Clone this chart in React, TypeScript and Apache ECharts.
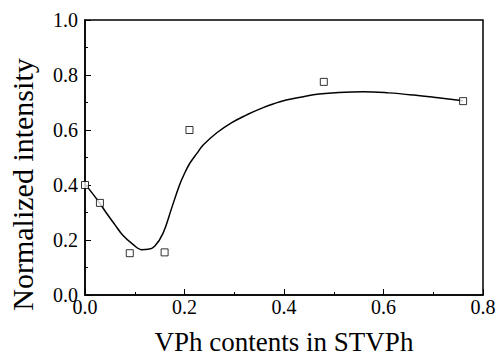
import React, { useEffect, useRef } from "react";
import * as echarts from "echarts";

const pointX = [0, 0.03, 0.09, 0.16, 0.21, 0.48, 0.76];
const pointY = [0.4, 0.335, 0.152, 0.155, 0.6, 0.775, 0.705];

const curveX = [0, 0.028, 0.043, 0.06, 0.076, 0.097, 0.113, 0.127, 0.14, 0.157, 0.174, 0.19, 0.2, 0.211, 0.225, 0.238, 0.265, 0.295, 0.325, 0.352, 0.392, 0.433, 0.459, 0.51, 0.56, 0.61, 0.661, 0.71, 0.76];
const curveY = [0.404, 0.338, 0.298, 0.256, 0.217, 0.183, 0.165, 0.166, 0.177, 0.225, 0.315, 0.4, 0.442, 0.48, 0.515, 0.546, 0.59, 0.627, 0.655, 0.677, 0.703, 0.719, 0.728, 0.736, 0.739, 0.735, 0.727, 0.717, 0.706];

const xTitle = "VPh contents in STVPh";
const yTitle = "Normalized intensity";

const FONT = "Liberation Serif";

export default function App() {
  const ref = useRef<HTMLDivElement>(null);
  useEffect(() => {
    if (!ref.current) return;
    const chart = echarts.init(ref.current, null, { renderer: "svg" });
    const axisCommon = {
      axisLine: { show: true, onZero: false, lineStyle: { color: "#000", width: 1.5 } },
      axisTick: { show: true, inside: true, length: 6, lineStyle: { color: "#000", width: 1 } },
      minorTick: { show: true, splitNumber: 2, length: 3, lineStyle: { color: "#000", width: 1 } },
      splitLine: { show: false },
      axisLabel: {
        color: "#000",
        fontFamily: FONT,
        fontSize: 20,
        formatter: (v: number) => v.toFixed(1),
      },
    };
    chart.setOption({
      animation: false,
      backgroundColor: "#fff",
      grid: {
        left: 85,
        right: 15,
        top: 20,
        bottom: 61,
        show: true,
        borderColor: "#000",
        borderWidth: 1.5,
        containLabel: false,
        outerBoundsMode: "none",
      },
      xAxis: {
        type: "value",
        min: 0,
        max: 0.8,
        interval: 0.2,
        name: xTitle,
        nameLocation: "middle",
        nameGap: 33,
        nameTextStyle: { color: "#000", fontFamily: FONT, fontSize: 27 },
        ...axisCommon,
        axisLabel: { ...axisCommon.axisLabel, margin: 2 },
      },
      yAxis: {
        type: "value",
        min: 0,
        max: 1,
        interval: 0.2,
        name: yTitle,
        nameLocation: "middle",
        nameGap: 48,
        nameTextStyle: { color: "#000", fontFamily: FONT, fontSize: 30, padding: [0, 54, 0, 0] },
        ...axisCommon,
        axisLabel: { ...axisCommon.axisLabel, margin: 7 },
      },
      series: [
        {
          type: "line",
          smooth: 0.4,
          showSymbol: false,
          data: curveX.map((x, i) => [x, curveY[i]]),
          lineStyle: { color: "#000", width: 1.5 },
          z: 2,
        },
        {
          type: "scatter",
          symbol: "rect",
          symbolSize: 7,
          data: pointX.map((x, i) => [x, pointY[i]]),
          itemStyle: { color: "#fff", borderColor: "#000", borderWidth: 1 },
          z: 3,
        },
      ],
    });
    return () => chart.dispose();
  }, []);
  return <div ref={ref} style={{ width: 498, height: 356, position: "absolute", left: 0, top: 0 }} />;
}
